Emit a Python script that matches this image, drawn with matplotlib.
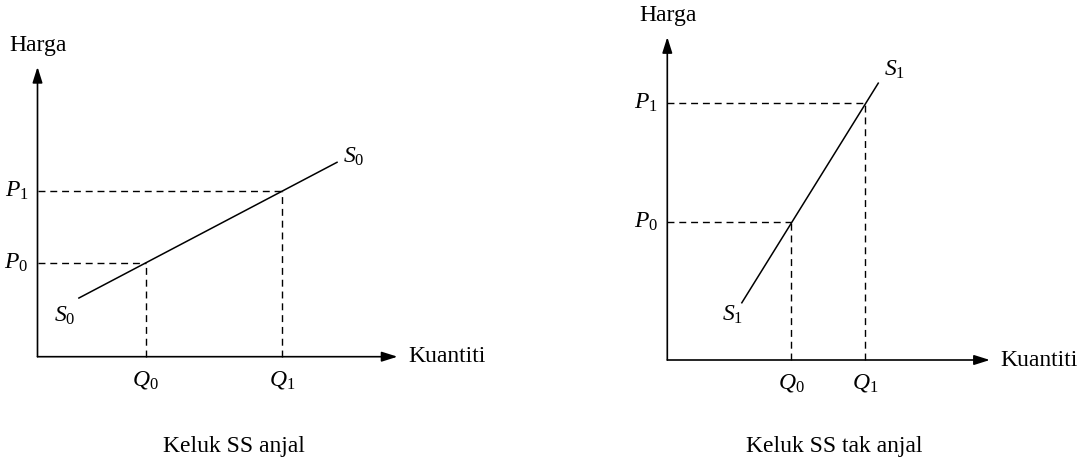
import matplotlib
matplotlib.use("Agg")
import matplotlib.pyplot as plt

plt.rcParams['font.family'] = ['Liberation Serif', 'DejaVu Serif']
plt.rcParams['mathtext.fontset'] = 'custom'
plt.rcParams['mathtext.rm'] = 'Liberation Serif'
plt.rcParams['mathtext.it'] = 'Liberation Serif:italic'

# ---- data (arbitrary units) ----
# Left panel: elastic supply S0
left_q = [3.0, 6.8]          # Q0, Q1
left_p = [2.6, 4.6]          # P0, P1
left_line_q = [1.15, 8.32]   # S0 line endpoints (quantity)
left_line_p = [1.63, 5.40]   # S0 line endpoints (price)
left_axis_max = [10.0, 8.05]

# Right panel: inelastic supply S1
right_q = [3.44, 5.49]
right_p = [3.84, 7.13]
right_line_q = [2.07, 5.86]
right_line_p = [1.59, 7.69]
right_axis_max = [8.96, 8.97]

q_labels = ["$Q_0$", "$Q_1$"]
p_labels = ["$P_0$", "$P_1$"]
captions = ["Keluk SS anjal", "Keluk SS tak anjal"]
curve_labels = ["$S_0$", "$S_1$"]

W, H = 1084, 459
PX = 36.0  # pixels per unit
fig = plt.figure(figsize=(W / 100, H / 100), dpi=100)

def make_ax(x0px, x1px, ox, oy):
    ax = fig.add_axes([x0px / W, 0, (x1px - x0px) / W, 1])
    ax.set_xlim((x0px - ox) / PX, (x1px - ox) / PX)
    ax.set_ylim((oy - H) / PX, oy / PX)
    ax.axis('off')
    return ax

panels = [
    dict(ax=make_ax(0, 542, 37.5, 356.7), q=left_q, p=left_p, lq=left_line_q,
         lp=left_line_p, amax=left_axis_max,
         top_off=(0.17, 0.14), bot_off=(-0.1, -0.5), cap_x=5.47, cap_y=-2.65),
    dict(ax=make_ax(542, 1084, 667.3, 360.0), q=right_q, p=right_p, lq=right_line_q,
         lp=right_line_p, amax=right_axis_max,
         top_off=(0.17, 0.36), bot_off=(0.03, -0.34), cap_x=4.63, cap_y=-2.56),
]

fs = 17
for i, pn in enumerate(panels):
    ax = pn['ax']
    xm, ym = pn['amax']
    arrow = dict(arrowstyle='-|>,head_length=0.95,head_width=0.3', color='black',
                 lw=1.2, shrinkA=0, shrinkB=0)
    ax.annotate('', xy=(xm, 0), xytext=(0, 0), arrowprops=arrow)
    ax.annotate('', xy=(0, ym), xytext=(0, 0), arrowprops=arrow)
    ax.text(-0.77, ym + 0.6, "Harga", fontsize=fs, ha='left', va='center')
    ax.text(xm + 0.3, 0, "Kuantiti", fontsize=fs, ha='left', va='center')
    # supply line
    ax.plot(pn['lq'], pn['lp'], color='black', lw=1.1)
    # dashed guides
    for q, p, ql, pl in zip(pn['q'], pn['p'], q_labels, p_labels):
        ax.plot([0, q], [p, p], color='black', lw=1.0, ls=(0, (5, 3.5)))
        ax.plot([q, q], [0, p], color='black', lw=1.0, ls=(0, (5, 3.5)))
        ax.text(q, -0.65, ql, fontsize=fs, ha='center', va='center')
        ax.text(-0.25, p, pl, fontsize=fs, ha='right', va='center')
    # curve labels
    tx, ty = pn['top_off']
    bx, by = pn['bot_off']
    ax.text(pn['lq'][1] + tx, pn['lp'][1] + ty, curve_labels[i], fontsize=fs,
            ha='left', va='center')
    ax.text(pn['lq'][0] + bx, pn['lp'][0] + by, curve_labels[i], fontsize=fs,
            ha='right', va='center')
    ax.text(pn['cap_x'], pn['cap_y'], captions[i], fontsize=fs,
            ha='center', va='baseline')

fig.savefig("out.png", dpi=100)
